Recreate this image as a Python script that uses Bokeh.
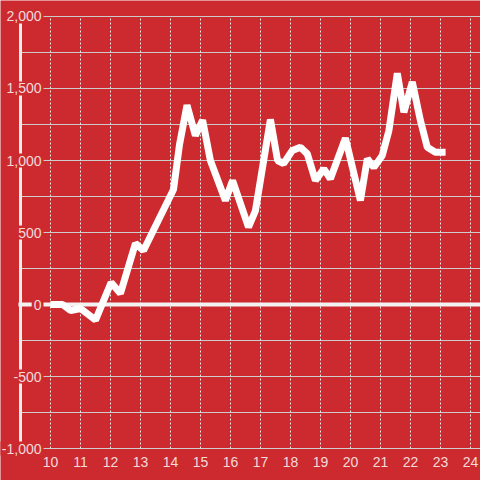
from bokeh.plotting import figure
from bokeh.models import Range1d
from bokeh.core.properties import value
from bokeh.embed import file_html
from bokeh.resources import INLINE

# ---- data ----
hours = [10.0, 10.25, 10.4, 10.67, 11.0, 11.5, 12.02, 12.33, 12.83, 13.1,
         14.1, 14.3, 14.55, 14.83, 15.07, 15.33, 15.83, 16.07, 16.6, 16.83,
         17.33, 17.57, 17.77, 18.06, 18.33, 18.56, 18.83, 19.11, 19.33, 19.83,
         20.33, 20.56, 20.78, 21.06, 21.28, 21.56, 21.78, 22.06, 22.33, 22.56,
         22.83, 23.17]
values = [0, 0, 0, -42, -28, -108, 153, 76, 424, 375,
          799, 1110, 1385, 1173, 1280, 1000, 722, 861, 537, 650,
          1285, 1000, 979, 1069, 1092, 1046, 861, 942, 873, 1155,
          722, 1012, 953, 1035, 1208, 1605, 1335, 1545, 1278, 1092,
          1058, 1058]

x_ticks = list(range(10, 25))
x_tick_labels = [str(t) for t in x_ticks]
y_grid = [-1000, -750, -500, -250, 0, 250, 500, 750, 1000, 1250, 1500, 1750, 2000]
y_label_vals = [-1000, -500, 0, 500, 1000, 1500, 2000]
y_label_texts = ["-1,000", "-500", "0", "500", "1,000", "1,500", "2,000"]

BG = "#cc2a2f"
TXT = "#f3dada"
FONT = "Liberation Sans"

X0, X1 = 8.3333, 24.3333
Y0, Y1 = -1222.2, 2111.1
Y_MIN, Y_MAX = -1000, 2000
AXIS_X = 9.0

p = figure(width=480, height=480, output_backend="svg", toolbar_location=None,
           x_range=Range1d(X0, X1), y_range=Range1d(Y0, Y1),
           x_axis_location=None, y_axis_location=None,
           min_border=0,
           background_fill_color=BG, border_fill_color=BG,
           outline_line_color=None)
p.grid.visible = False

# horizontal grid (solid)
p.segment(x0=AXIS_X, y0=y_grid, x1=X1, y1=y_grid,
          line_color="#cccccc", line_width=1)
# vertical grid (dashed)
p.segment(x0=x_ticks, y0=Y_MIN, x1=x_ticks, y1=Y_MAX,
          line_color="#e6e6e6", line_width=1, line_dash="2 2")
# zero line
p.segment(x0=[8.93], y0=[0], x1=[X1], y1=[0], line_color="#f2f2f2", line_width=4)
# y axis bar
p.segment(x0=[AXIS_X], y0=[Y_MIN], x1=[AXIS_X], y1=[Y_MAX],
          line_color="#eeeeee", line_width=3)

# data line
p.line(hours, values, line_color="#ffffff", line_width=7, line_join="bevel")

# y labels
p.text(x=AXIS_X, y=y_label_vals, text=y_label_texts, x_offset=23,
       text_align="right", text_baseline="middle",
       text_font=value(FONT), text_font_size="14px", text_color=TXT,
       background_fill_color=BG, padding=2)

# x labels
p.text(x=x_ticks, y=Y_MIN, text=x_tick_labels, y_offset=13,
       text_align="center", text_baseline="middle",
       text_font=value(FONT), text_font_size="14px", text_color=TXT)

html = file_html(p, INLINE)
html = html.replace("<body>", '<body style="background-color:%s;">' % BG, 1)
open("out.html", "w").write(html)
